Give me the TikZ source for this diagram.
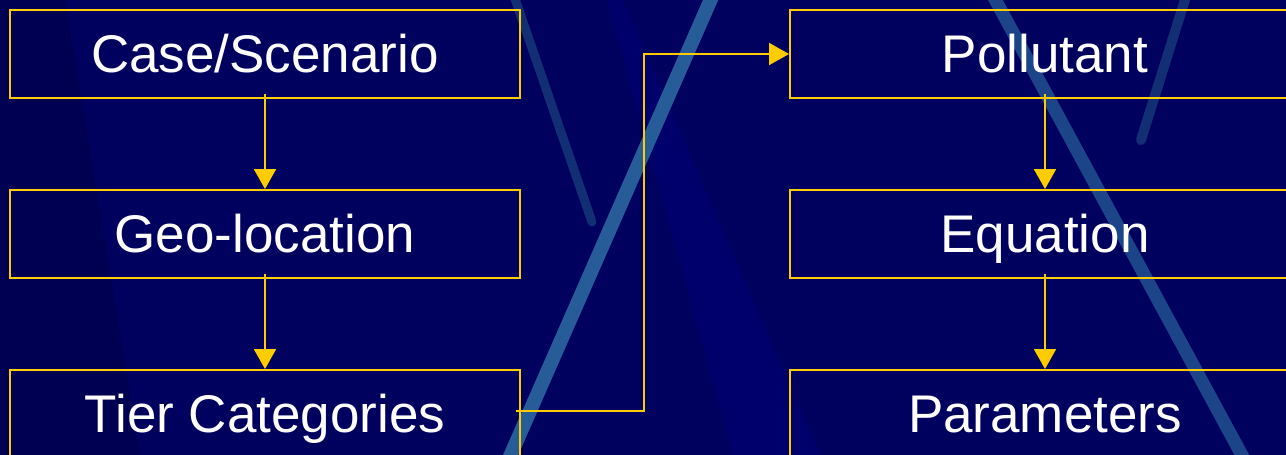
\documentclass[tikz,border=0pt]{standalone}
\usepackage{fontspec}
\setmainfont{Liberation Sans}
\usetikzlibrary{arrows.meta}
\definecolor{navy}{RGB}{0,0,94}
\definecolor{navydark}{RGB}{0,0,82}
\definecolor{navylight}{RGB}{0,0,108}
\definecolor{streak}{RGB}{38,92,152}
\definecolor{streakdim}{RGB}{18,46,116}
\definecolor{gold}{RGB}{255,204,0}
\tikzset{
  stepbox/.style={draw=gold, line width=2pt, minimum width=510pt, minimum height=88pt,
    inner sep=0pt, text=white, font=\fontsize{53}{53}\selectfont, text height=37pt, text depth=0pt},
  arr/.style={draw=gold, line width=2pt, -{Triangle[width=22pt,length=20pt]}},
}
\begin{document}
\begin{tikzpicture}[x=1pt,y=-1pt]
\useasboundingbox (0,0) rectangle (1286,455);
\clip (0,0) rectangle (1286,455);
\fill[navy] (0,0) rectangle (1286,455);
% background streaks
\fill[navydark] (0,0) -- (65,0) -- (140,455) -- (0,455) -- cycle;
\fill[navylight] (607,0) -- (623,0) -- (820,455) -- (733,455) -- cycle;
\draw[streak, line width=14pt, line cap=round] (715,-10) -- (504,470);
\draw[streakdim, line width=9pt, line cap=round] (512,-10) -- (592,222);
\draw[streak, line width=13pt, line cap=round, opacity=0.75] (990,-10) -- (1250,470);
\draw[streakdim, line width=10pt, line cap=round] (1188,-10) -- (1141,140);
% boxes
\node[stepbox] (case) at (265,54) {Case/Scenario};
\node[stepbox] (geo) at (265,234) {Geo-location};
\node[stepbox] (tier) at (265,414) {Tier Categories};
\node[stepbox] (poll) at (1045,54) {Pollutant};
\node[stepbox] (eq) at (1045,234) {Equation};
\node[stepbox] (par) at (1045,414) {Parameters};
% connectors
\draw[arr] ([yshift=5pt]case.south) -- (geo.north);
\draw[arr] ([yshift=5pt]geo.south) -- (tier.north);
\draw[arr] ([yshift=5pt]poll.south) -- (eq.north);
\draw[arr] ([yshift=5pt]eq.south) -- (par.north);
\coordinate (turn) at (644,411);
\draw[arr] ([xshift=-5pt]tier.east |- turn) -- (turn) |- (poll.west);
\end{tikzpicture}
\end{document}
